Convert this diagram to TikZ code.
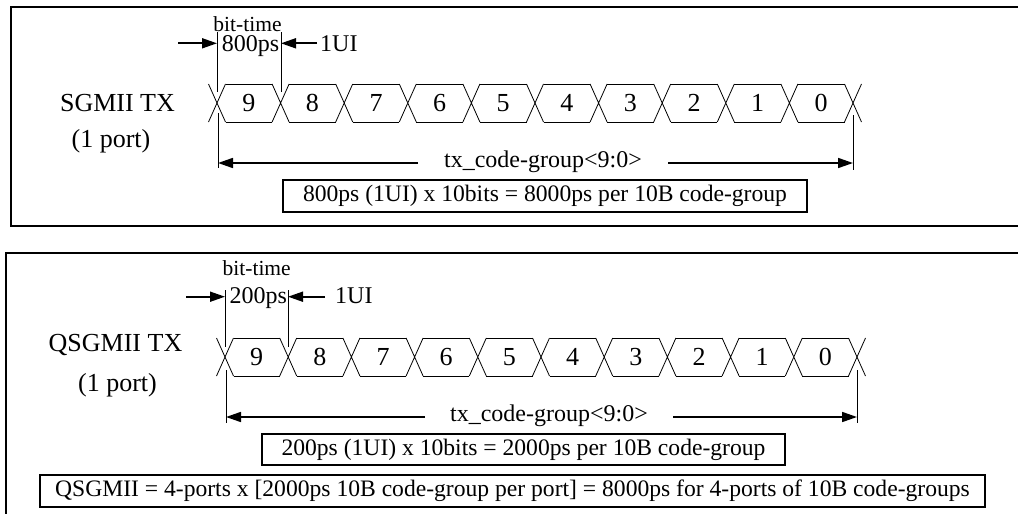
\documentclass[tikz,border=0pt]{standalone}
\usepackage{fontspec}
\setmainfont{Liberation Serif}
\usetikzlibrary{arrows.meta}
\newcommand{\wavetrain}[5]{%
  \foreach \k in {0,...,10} {
    \pgfmathsetmacro{\cx}{#1+\k*#2}
    \coordinate (#5c\k) at (\cx,{(#3+#4)/2});
    \draw[wave] (\cx-8.5,#3) -- (\cx+8.5,#4) (\cx-8.5,#4) -- (\cx+8.5,#3);
  }
  \foreach \k in {0,...,9} {
    \pgfmathtruncatemacro{\dd}{9-\k}
    \pgfmathsetmacro{\ax}{#1+\k*#2+8.5}
    \pgfmathsetmacro{\bx}{#1+(\k+1)*#2-8.5}
    \pgfmathsetmacro{\mx}{#1+(\k+0.5)*#2}
    \draw[wave] (\ax,#3) -- (\bx,#3) (\ax,#4) -- (\bx,#4);
    \node[digit] (#5d\k) at (\mx,{(#3+#4)/2}) {\dd};
  }
}
\begin{document}
\begin{tikzpicture}[x=1pt,y=-1pt,
  lbl/.style={inner sep=0pt, anchor=base, font=\fontsize{24}{24}\selectfont},
  big/.style={inner sep=0pt, anchor=base, font=\fontsize{26}{26}\selectfont},
  small/.style={inner sep=0pt, anchor=base, font=\fontsize{21.5}{22}\selectfont},
  digit/.style={inner sep=0pt, font=\fontsize{26}{26}\selectfont},
  wave/.style={line width=0.8pt},
  tick/.style={line width=1pt},
  frame/.style={line width=1.2pt},
  sumbox/.style={draw, line width=2pt, inner sep=0pt, font=\fontsize{23.6}{24}\selectfont},
  dimarrow/.style={line width=1.7pt, -{Triangle[length=15pt,width=10pt]}},
]
\useasboundingbox (0,0) rectangle (1018,514);
% frames
\draw[frame] (1018,7) -- (11,7) -- (11,226) -- (1018,226);
\draw[frame] (1018,253) -- (6,253) -- (6,514);

% ---------- top panel ----------
\wavetrain{217}{63.6}{84}{122}{t}
\node[big] (tname) at (117.5,111.7) {SGMII TX};
\node[big] (tport) at (111,147) {(1 port)};
\node[small, text depth=0pt] (tbit) at (247.5,31) {bit-time};
\node[lbl, text height=16pt] (tps) at (250.5,51) {800ps};
\node[lbl,anchor=base west] (tui) at (320,51) {1UI};
\coordinate (tv0a) at (217,32); \coordinate (tv0b) at (217,92);
\coordinate (tv1a) at (281,32); \coordinate (tv1b) at (281,92);
\draw[tick] (tv0a) -- (tv0b);
\draw[tick] (tv1a) -- (tv1b);
\coordinate (tla) at (178,43.3);
\coordinate (tra) at (317,43.3);
\draw[dimarrow] (tla) -- (tla -| tv0a);
\draw[dimarrow] (tra) -- (tra -| tv1a);
\coordinate (tw0a) at (218,113); \coordinate (tw0b) at (218,168);
\coordinate (tw1a) at (853,115); \coordinate (tw1b) at (853,170);
\draw[tick] (tw0a) -- (tw0b);
\draw[tick] (tw1a) -- (tw1b);
\node[lbl] (tcg) at (543,167) {tx\_code-group<9:0>};
\coordinate (tbl) at (418,163);
\coordinate (tbr) at (668,163);
\draw[dimarrow] (tbl) -- (tbl -| tw0a);
\draw[dimarrow] (tbr) -- (tbr -| tw1a);
\node[sumbox, minimum width=524pt, minimum height=32pt] (tbox) at (545,196)
  {800ps (1UI) x 10bits = 8000ps per 10B code-group};

% ---------- bottom panel ----------
\wavetrain{225}{63.2}{338}{376}{b}
\node[big] (bname) at (115.5,351) {QSGMII TX};
\node[big] (bport) at (117.5,391.7) {(1 port)};
\node[small] (bbit) at (256.7,275) {bit-time};
\node[lbl] (bps) at (258.3,303.3) {200ps};
\node[lbl,anchor=base west] (bui) at (335,303.3) {1UI};
\coordinate (bv0a) at (225,290); \coordinate (bv0b) at (225,347);
\coordinate (bv1a) at (288,290); \coordinate (bv1b) at (288,347);
\draw[tick] (bv0a) -- (bv0b);
\draw[tick] (bv1a) -- (bv1b);
\coordinate (bla) at (186,296.7);
\coordinate (bra) at (325,296.7);
\draw[dimarrow] (bla) -- (bla -| bv0a);
\draw[dimarrow] (bra) -- (bra -| bv1a);
\coordinate (bw0a) at (226,370); \coordinate (bw0b) at (226,423);
\coordinate (bw1a) at (857,370); \coordinate (bw1b) at (857,423);
\draw[tick] (bw0a) -- (bw0b);
\draw[tick] (bw1a) -- (bw1b);
\node[lbl] (bcg) at (549,421.7) {tx\_code-group<9:0>};
\coordinate (bbl) at (425,417);
\coordinate (bbr) at (673,417);
\draw[dimarrow] (bbl) -- (bbl -| bw0a);
\draw[dimarrow] (bbr) -- (bbr -| bw1a);
\node[sumbox, minimum width=523pt, minimum height=31pt] (bbox) at (523.5,449.5)
  {200ps (1UI) x 10bits = 2000ps per 10B code-group};
\node[sumbox, minimum width=945pt, minimum height=32pt] (qbox) at (512.5,491)
  {QSGMII = 4-ports x [2000ps 10B code-group per port] = 8000ps for 4-ports of 10B code-groups};
\end{tikzpicture}
\end{document}
